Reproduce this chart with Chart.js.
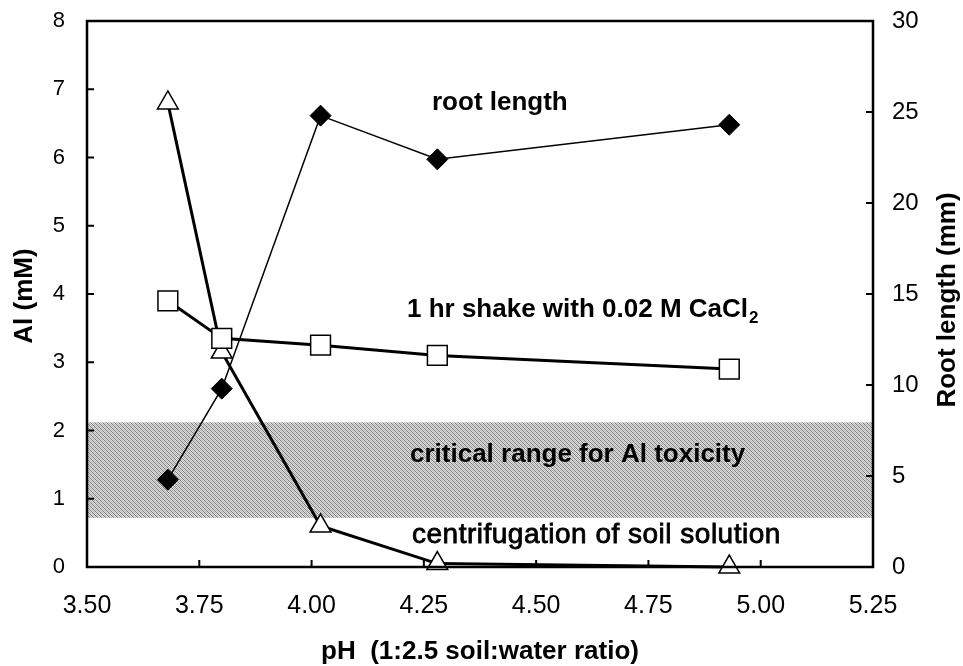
<!DOCTYPE html>
<html>
<head>
<meta charset="utf-8">
<script src="https://cdn.jsdelivr.net/npm/chart.js@4.4.1/dist/chart.umd.min.js"></script>
<style>
  html, body { margin: 0; padding: 0; background: #fff; }
  #wrap { width: 963px; height: 666px; }
</style>
</head>
<body>
<div id="wrap"><canvas id="alChart" width="963" height="666"></canvas></div>
<script>
// pH of the soils (1:2.5 soil:water)
const phValues = [3.68, 3.80, 4.02, 4.28, 4.93];
// Al (mM), centrifugation of soil solution
const alCentrifuge = [6.8, 3.15, 0.6, 0.05, 0.0];
// Al (mM), 1 hr shake with 0.02 M CaCl2
const alShake = [3.9, 3.35, 3.25, 3.1, 2.9];
// root length (mm), right axis
const rootLength = [4.8, 9.8, 24.8, 22.4, 24.3];
// critical range for Al toxicity (mM)
const criticalRange = [0.72, 2.12];

const FONT = "'Liberation Sans', Arial, sans-serif";

function toPoints(ys) {
    return phValues.map((x, i) => ({ x: x, y: ys[i] }));
}

// dithered grey used for the critical band
function makeBandPattern(ctx) {
    const c = document.createElement('canvas');
    c.width = 4; c.height = 4;
    const p = c.getContext('2d');
    p.fillStyle = '#dedede';
    p.fillRect(0, 0, 4, 4);
    p.fillStyle = '#7c7c7c';
    for (let i = 0; i < 4; i++) p.fillRect(i, i, 1, 1);
    p.fillStyle = '#b4b4b4';
    for (let i = 0; i < 4; i++) p.fillRect((i + 2) % 4, i, 1, 1);
    return ctx.createPattern(c, 'repeat');
}

const bandPlugin = {
    id: 'band',
    beforeDatasetsDraw(chart) {
        const { ctx, chartArea } = chart;
        const y = chart.scales.y;
        const top = y.getPixelForValue(criticalRange[1]);
        const bottom = y.getPixelForValue(criticalRange[0]);
        ctx.save();
        ctx.fillStyle = makeBandPattern(ctx);
        ctx.fillRect(chartArea.left, top, chartArea.right - chartArea.left, bottom - top);
        ctx.restore();
    }
};

const framePlugin = {
    id: 'frame',
    afterDraw(chart) {
        const { ctx, chartArea } = chart;
        const { x, y, y2 } = chart.scales;
        ctx.save();
        ctx.strokeStyle = '#000';
        ctx.lineWidth = 2.5;
        ctx.strokeRect(chartArea.left, chartArea.top,
            chartArea.right - chartArea.left, chartArea.bottom - chartArea.top);

        // inward tick marks
        ctx.lineWidth = 2;
        ctx.beginPath();
        y.ticks.forEach(t => {
            if (t.value <= y.min || t.value >= y.max) return;
            const py = y.getPixelForValue(t.value);
            ctx.moveTo(chartArea.left, py);
            ctx.lineTo(chartArea.left + 7, py);
        });
        y2.ticks.forEach(t => {
            if (t.value <= y2.min || t.value >= y2.max) return;
            const py = y2.getPixelForValue(t.value);
            ctx.moveTo(chartArea.right, py);
            ctx.lineTo(chartArea.right - 7, py);
        });
        x.ticks.forEach(t => {
            if (t.value <= x.min + 1e-9 || t.value >= x.max - 1e-9) return;
            const px = x.getPixelForValue(t.value);
            ctx.moveTo(px, chartArea.bottom);
            ctx.lineTo(px, chartArea.bottom - 7);
        });
        ctx.stroke();

        // axis titles
        ctx.fillStyle = '#000';
        ctx.font = 'bold 26px ' + FONT;
        ctx.textAlign = 'center';
        ctx.textBaseline = 'alphabetic';
        ctx.fillText('pH  (1:2.5 soil:water ratio)', 480, 659);

        ctx.textBaseline = 'middle';
        ctx.save();
        ctx.translate(25, 296);
        ctx.rotate(-Math.PI / 2);
        ctx.fillText('Al (mM)', 0, 0);
        ctx.restore();
        ctx.save();
        ctx.translate(948, 300);
        ctx.rotate(-Math.PI / 2);
        ctx.fillText('Root length (mm)', 0, 0);
        ctx.restore();

        // curve labels
        ctx.textAlign = 'left';
        ctx.textBaseline = 'alphabetic';
        ctx.font = 'bold 26px ' + FONT;
        ctx.fillText('root length', 432, 110);
        const shake = '1 hr shake with 0.02 M CaCl';
        ctx.fillText(shake, 407, 317);
        const w = ctx.measureText(shake).width;
        ctx.font = 'bold 17px ' + FONT;
        ctx.fillText('2', 407 + w + 1, 323);
        ctx.font = 'bold 26px ' + FONT;
        ctx.fillText('critical range for Al toxicity', 410, 462);
        ctx.font = '28px ' + FONT;
        ctx.letterSpacing = '0.5px';
        ctx.lineWidth = 0.8;
        ctx.fillText('centrifugation of soil solution', 412, 543);
        ctx.strokeText('centrifugation of soil solution', 412, 543);
        ctx.restore();
    }
};

// fixed axis widths, no extra label padding above/below the plot
function fitVertical(width) {
    return s => {
        s.width = width;
        s.paddingTop = 0;
        s.paddingBottom = 0;
    };
}

const ctx = document.getElementById('alChart').getContext('2d');
new Chart(ctx, {
    type: 'line',
    data: {
        datasets: [
            {
                label: '1 hr shake with 0.02 M CaCl2',
                data: toPoints(alShake),
                yAxisID: 'y',
                borderColor: '#000',
                borderWidth: 3,
                pointStyle: 'rect',
                pointRadius: 14,
                pointBackgroundColor: '#fff',
                pointBorderColor: '#000',
                pointBorderWidth: 1.5,
                tension: 0,
                order: 0
            },
            {
                label: 'centrifugation of soil solution',
                data: toPoints(alCentrifuge),
                yAxisID: 'y',
                borderColor: '#000',
                borderWidth: 3,
                pointStyle: 'triangle',
                pointRadius: 12,
                pointBackgroundColor: '#fff',
                pointBorderColor: '#000',
                pointBorderWidth: 1.5,
                tension: 0,
                order: 1
            },
            {
                label: 'root length',
                data: toPoints(rootLength),
                yAxisID: 'y2',
                borderColor: '#000',
                borderWidth: 1.5,
                pointStyle: 'rectRot',
                pointRadius: 10.5,
                pointBackgroundColor: '#000',
                pointBorderColor: '#000',
                pointBorderWidth: 1,
                tension: 0,
                order: 2
            }
        ]
    },
    options: {
        responsive: false,
        animation: false,
        clip: false,
        layout: { padding: { top: 21, left: 0, right: 0, bottom: 0 } },
        plugins: {
            legend: { display: false },
            tooltip: { enabled: false }
        },
        scales: {
            x: {
                type: 'linear',
                min: 3.5,
                max: 5.25,
                grid: { display: false, drawTicks: false },
                border: { display: false },
                ticks: {
                    stepSize: 0.25,
                    padding: 24,
                    color: '#000',
                    font: { family: FONT, size: 25 },
                    maxRotation: 0,
                    callback: v => v.toFixed(2)
                },
                afterFit: s => { s.height = 99; }
            },
            y: {
                position: 'left',
                min: 0,
                max: 8,
                grid: { display: false, drawTicks: false },
                border: { display: false },
                ticks: {
                    stepSize: 1,
                    padding: 22,
                    color: '#000',
                    font: { family: FONT, size: 22 }
                },
                afterFit: fitVertical(87)
            },
            y2: {
                position: 'right',
                min: 0,
                max: 30,
                grid: { display: false, drawTicks: false },
                border: { display: false },
                ticks: {
                    stepSize: 5,
                    padding: 19,
                    color: '#000',
                    font: { family: FONT, size: 24 }
                },
                afterFit: fitVertical(90)
            }
        }
    },
    plugins: [bandPlugin, framePlugin]
});
</script>
</body>
</html>
